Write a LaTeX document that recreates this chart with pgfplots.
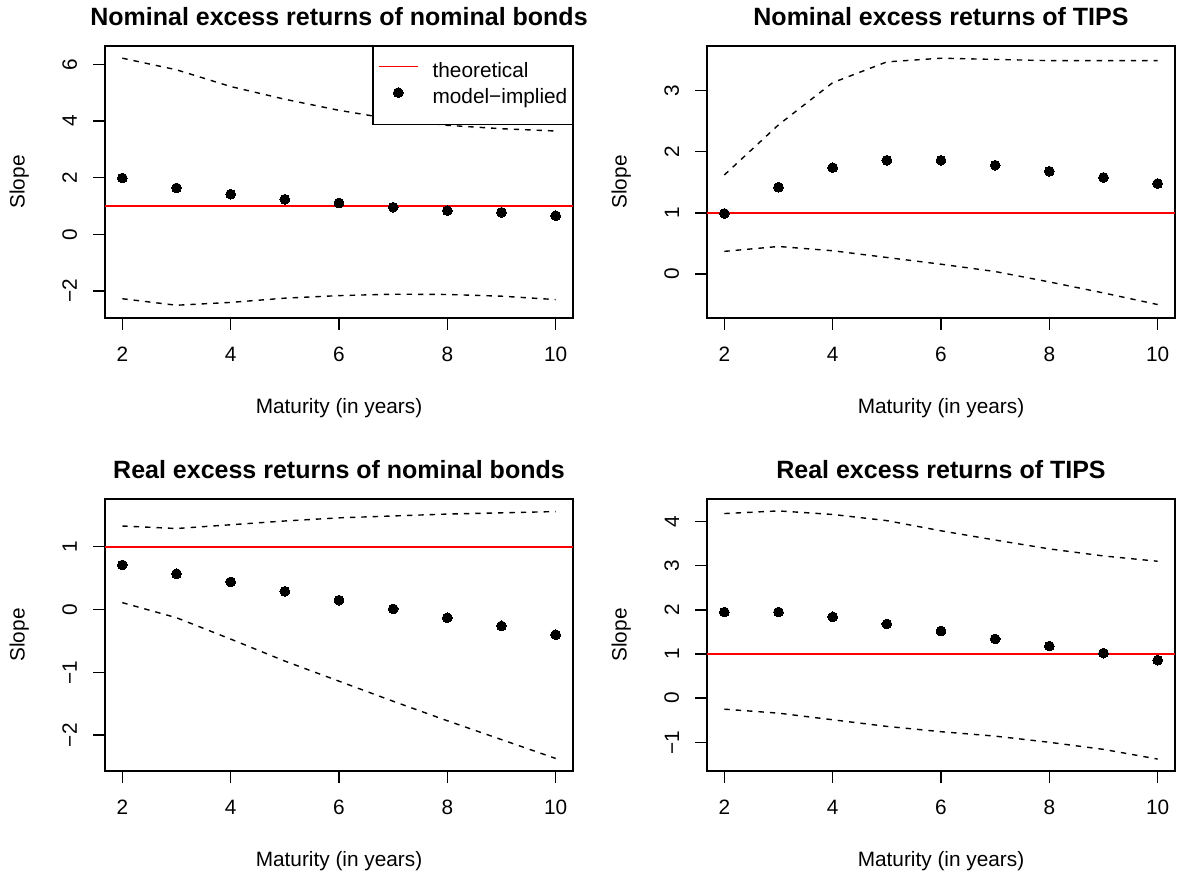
\documentclass[border=0pt]{standalone}
\usepackage{fontspec}
\setmainfont{Liberation Sans}
\usepackage{pgfplots}
\usepackage{pgfplotstable}
\pgfplotsset{compat=1.18}

\pgfplotstableread{
x upper lower point
2 6.22 -2.27 1.99
3 5.81 -2.50 1.64
4 5.22 -2.40 1.42
5 4.77 -2.25 1.24
6 4.38 -2.16 1.11
7 4.06 -2.11 0.96
8 3.85 -2.12 0.84
9 3.73 -2.18 0.78
10 3.65 -2.30 0.66
}\tabNN
\pgfplotstableread{
x upper lower point
2 1.62 0.37 0.99
3 2.44 0.45 1.42
4 3.13 0.38 1.74
5 3.47 0.27 1.86
6 3.53 0.16 1.86
7 3.51 0.04 1.78
8 3.49 -0.13 1.68
9 3.49 -0.31 1.58
10 3.49 -0.50 1.48
}\tabNT
\pgfplotstableread{
x upper lower point
2 1.33 0.11 0.71
3 1.29 -0.13 0.57
4 1.35 -0.47 0.44
5 1.41 -0.82 0.29
6 1.46 -1.14 0.15
7 1.49 -1.46 0.01
8 1.52 -1.77 -0.13
9 1.54 -2.07 -0.26
10 1.56 -2.37 -0.40
}\tabRN
\pgfplotstableread{
x upper lower point
2 4.18 -0.25 1.95
3 4.24 -0.34 1.95
4 4.16 -0.49 1.84
5 4.02 -0.64 1.68
6 3.79 -0.76 1.52
7 3.58 -0.86 1.34
8 3.38 -1.00 1.18
9 3.22 -1.16 1.02
10 3.10 -1.38 0.86
}\tabRT

\tikzset{
  bandline/.style={draw=black, line width=0.7pt, dash pattern=on 2.7pt off 3pt},
  redline/.style={draw=red, color=red, line width=0.8pt},
  dots/.style={only marks, mark=*, mark size=2.45pt, mark options={fill=black, draw=black, line width=0pt, solid}},
}

\pgfplotsset{
  rpanel/.style={
    scale only axis, width=234pt, height=136pt,
    xmin=1.68, xmax=10.32,
    xtick={2,4,6,8,10},
    xticklabels={2,4,6,8,10},
    tick align=outside, major tick length=6pt,
    xtick pos=bottom, ytick pos=left,
    axis line style={line width=0.7pt},
    every tick/.style={line width=0.7pt, black},
    tick label style={font=\fontsize{10.4}{12}\selectfont, inner sep=0pt},
    xticklabel style={anchor=north},
    yticklabel style={rotate=90, anchor=south},
    xticklabel shift=8.5pt, yticklabel shift=7.8pt,
    title style={at={(axis description cs:0.5,1.0305)}, anchor=base, inner sep=0pt,
      font=\bfseries\fontsize{12.5}{15}\selectfont},
    xlabel style={at={(axis description cs:0.5,-0.3515)}, anchor=base, inner sep=0pt,
      font=\fontsize{10.4}{12}\selectfont},
    ylabel style={at={(axis description cs:-0.1718,0.5)}, anchor=base, inner sep=0pt,
      font=\fontsize{10.4}{12}\selectfont},
    xlabel={Maturity (in years)}, ylabel={Slope},
    legend image code/.code={\draw[mark repeat=2, mark phase=2, #1] plot coordinates {(0pt,3pt) (9.75pt,3pt) (19.5pt,3pt)};},
  },
}

\begin{document}
\begin{tikzpicture}
\useasboundingbox (0,0) rectangle (588.5pt,436pt);

% top left
\begin{axis}[rpanel, at={(52.5pt,277pt)}, anchor=south west,
  ymin=-2.95, ymax=6.65, ytick={-2,0,2,4,6}, yticklabels={−2,0,2,4,6},
  title={Nominal excess returns of nominal bonds},
  legend style={at={(1,1)}, anchor=north east, draw=black, fill=white, line width=0.7pt,
    font=\fontsize{10.4}{12}\selectfont,
    inner xsep=2.5pt, inner ysep=8pt, row sep=2.8pt, column sep=0pt,
    nodes={inner sep=0pt, text height=7.5pt, text depth=2.2pt},
    column 2/.style={nodes={text width=73pt, align=left, inner sep=0pt}},
  },
  legend cell align=left]
\addplot[redline] coordinates {(1.68,1) (10.32,1)};
\addlegendentry{\hspace{7pt}theoretical}
\addplot[dots] table[x=x, y=point] {\tabNN};
\addlegendentry{\hspace{7pt}model−implied}
\addplot[bandline, forget plot] table[x=x, y=upper] {\tabNN};
\addplot[bandline, forget plot] table[x=x, y=lower] {\tabNN};
\end{axis}

% top right
\begin{axis}[rpanel, at={(353.5pt,277pt)}, anchor=south west,
  ymin=-0.72, ymax=3.73, ytick={0,1,2,3}, yticklabels={0,1,2,3},
  title={Nominal excess returns of TIPS}]
\addplot[redline] coordinates {(1.68,1) (10.32,1)};
\addplot[dots] table[x=x, y=point] {\tabNT};
\addplot[bandline] table[x=x, y=upper] {\tabNT};
\addplot[bandline] table[x=x, y=lower] {\tabNT};
\end{axis}

% bottom left
\begin{axis}[rpanel, at={(52.5pt,50.5pt)}, anchor=south west,
  ymin=-2.57, ymax=1.76, ytick={-2,-1,0,1}, yticklabels={−2,−1,0,1},
  title={Real excess returns of nominal bonds}]
\addplot[redline] coordinates {(1.68,1) (10.32,1)};
\addplot[dots] table[x=x, y=point] {\tabRN};
\addplot[bandline] table[x=x, y=upper] {\tabRN};
\addplot[bandline] table[x=x, y=lower] {\tabRN};
\end{axis}

% bottom right
\begin{axis}[rpanel, at={(353.5pt,50.5pt)}, anchor=south west,
  ymin=-1.65, ymax=4.51, ytick={-1,0,1,2,3,4}, yticklabels={−1,0,1,2,3,4},
  title={Real excess returns of TIPS}]
\addplot[redline] coordinates {(1.68,1) (10.32,1)};
\addplot[dots] table[x=x, y=point] {\tabRT};
\addplot[bandline] table[x=x, y=upper] {\tabRT};
\addplot[bandline] table[x=x, y=lower] {\tabRT};
\end{axis}
\end{tikzpicture}
\end{document}
